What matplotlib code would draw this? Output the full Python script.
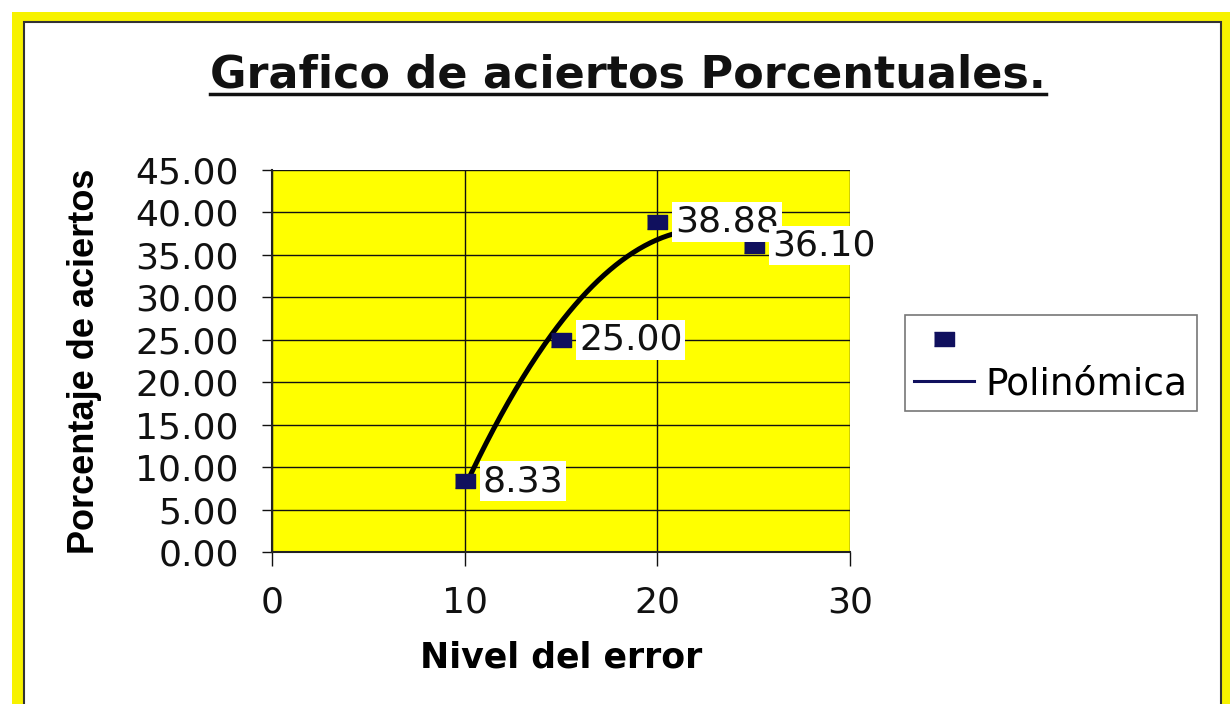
import matplotlib
matplotlib.use("Agg")
import matplotlib.pyplot as plt
from matplotlib.lines import Line2D
from matplotlib.patches import Rectangle
import numpy as np

# Datos del grafico
nivel_error = [10, 15, 20, 25]
aciertos = [8.33, 25.00, 38.88, 36.10]
etiquetas = ["8.33", "25.00", "38.88", "36.10"]
y_ticks = [0, 5, 10, 15, 20, 25, 30, 35, 40, 45]
x_ticks = [0, 10, 20, 30]

W, H = 1230, 704
fig = plt.figure(figsize=(W / 100, H / 100), dpi=100)
fig.patch.set_facecolor("white")

# marco amarillo alrededor del grafico (coordenadas en pixeles)
def px_rect(x0, y0, x1, y1, **kw):
    return Rectangle((x0 / W, 1 - y1 / H), (x1 - x0) / W, (y1 - y0) / H,
                     transform=fig.transFigure, **kw)

fig.add_artist(px_rect(12, 12, 1232, 720, facecolor="#f7f200", edgecolor="none", zorder=-3))
fig.add_artist(px_rect(24, 22, 1221, 720, facecolor="white", edgecolor="#333333",
                       linewidth=1.5, zorder=-2))

ax = fig.add_axes([272 / W, 1 - 552 / H, (850 - 272) / W, (552 - 170) / H])
ax.set_facecolor("#ffff00")
ax.set_xlim(0, 30)
ax.set_ylim(0, 45)

ax.set_xticks(x_ticks)
ax.set_yticks(y_ticks)
ax.set_yticklabels(["%.2f" % v for v in y_ticks])
ax.grid(True, color="#111111", linewidth=1.0)
ax.set_axisbelow(True)
for s in ["top", "right"]:
    ax.spines[s].set_visible(False)
for s in ["left", "bottom"]:
    ax.spines[s].set_color("#222222")
    ax.spines[s].set_linewidth(1.5)

ax.tick_params(axis="y", direction="out", length=7, width=1, pad=17,
               labelsize=26, colors="#111111")
ax.tick_params(axis="x", direction="out", length=10, width=1, pad=14,
               labelsize=26, colors="#111111")
for lab in ax.get_xticklabels() + ax.get_yticklabels():
    lab.set_family("DejaVu Sans")

# linea de tendencia polinomica (orden 2)
coef = np.polyfit(nivel_error, aciertos, 2)
xs = np.linspace(min(nivel_error), max(nivel_error), 200)
ax.plot(xs, np.polyval(coef, xs), color="black", linewidth=3.6, zorder=2,
        solid_capstyle="butt")

marca = [(-1, -0.72), (1, -0.72), (1, 0.72), (-1, 0.72)]
ax.plot(nivel_error, aciertos, linestyle="none", marker=marca, markersize=15,
        color="#10105e", zorder=3)

for x, y, t in zip(nivel_error, aciertos, etiquetas):
    ax.annotate(t, (x, y), xytext=(13, 0), textcoords="offset points",
                ha="left", va="center", fontsize=26, family="DejaVu Sans",
                color="#111111", zorder=4,
                bbox=dict(boxstyle="square,pad=0.08", facecolor="white",
                          edgecolor="none"))

ax.set_xlabel("Nivel del error", fontsize=25, fontweight="bold",
              family="DejaVu Sans", labelpad=15)
ax.set_ylabel("Porcentaje de aciertos", fontsize=26, fontweight="bold",
              family="Liberation Sans", labelpad=24)

# leyenda
h_marca = Line2D([], [], linestyle="none", marker=marca, markersize=15, color="#10105e")
h_linea = Line2D([], [], color="#10105e", linewidth=2.2)
leg = fig.legend([h_marca, h_linea], ["", "Polinómica"],
                 loc="upper left", bbox_to_anchor=(905 / W, 1 - 315 / H),
                 prop={"family": "DejaVu Sans", "size": 27},
                 frameon=True, fancybox=False, edgecolor="#555555",
                 handlelength=1.6, handletextpad=0.3, borderpad=0.25,
                 labelspacing=0.15, borderaxespad=0)
leg.get_frame().set_linewidth(1.2)

# titulo subrayado
titulo = fig.text(628 / W, 1 - 75 / H, "Grafico de aciertos Porcentuales.",
                  ha="center", va="center", fontsize=32, fontweight="bold",
                  family="DejaVu Sans", color="#111111")
fig.canvas.draw()
bb = titulo.get_window_extent(renderer=fig.canvas.get_renderer())
fig.add_artist(Line2D([bb.x0 / W, bb.x1 / W], [(H - 94) / H, (H - 94) / H],
                      transform=fig.transFigure, color="#111111", linewidth=2.5))

fig.savefig("out.png", dpi=100, facecolor=fig.get_facecolor())
